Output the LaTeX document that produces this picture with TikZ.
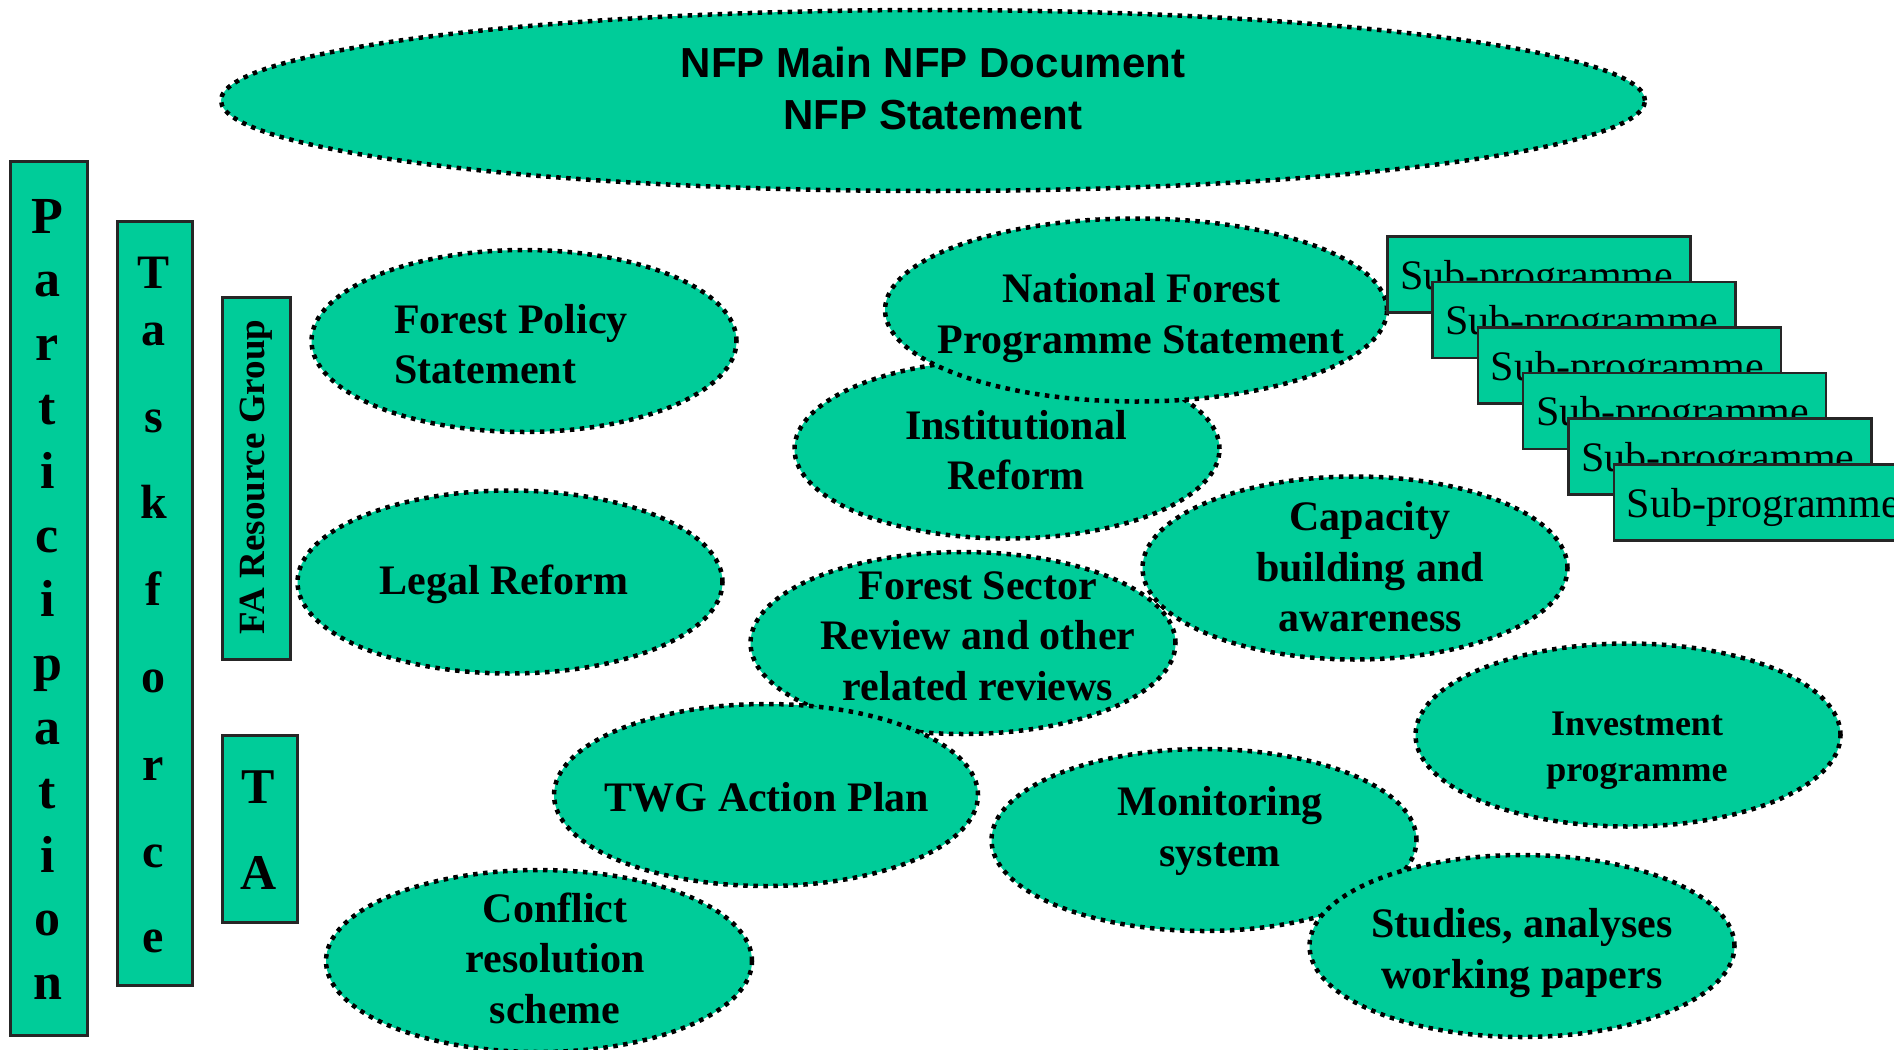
\documentclass[tikz,border=0pt]{standalone}
\usepackage{fontspec}
\setmainfont{Liberation Serif}
\newfontfamily\arialfont{Liberation Sans}
\usetikzlibrary{shapes.geometric}
\definecolor{nfpgreen}{RGB}{0,204,153}
\tikzset{
  blob/.style={ellipse, fill=nfpgreen, draw=black, line width=4.5pt, dash pattern=on 4.5pt off 5.5pt, inner sep=0pt},
  blobtext/.style={font={\fontsize{42}{50.5}\selectfont\bfseries}, align=center, inner sep=0pt},
  barbox/.style={rectangle, fill=nfpgreen, draw=black!85, line width=2.5pt, inner sep=0pt, anchor=north west},
  barletter/.style={font={\fontsize{#1}{#1}\selectfont\bfseries}, anchor=base, inner sep=0pt},
  subbox/.style={rectangle, fill=nfpgreen, draw=black!85, line width=2.5pt, inner sep=0pt, anchor=north west, minimum width=303pt, minimum height=76pt},
  subtext/.style={font={\fontsize{42}{50}\selectfont}, anchor=base west, inner sep=0pt}
}
\begin{document}
\begin{tikzpicture}[x=1pt,y=-1pt]
\useasboundingbox (0,0) rectangle (1894,1049);
\clip (0,0) rectangle (1894,1049);
% top ellipse
\node[blob, minimum width=1424pt, minimum height=181pt] (main) at (933,100.5) {};
\node[font={\arialfont\fontsize{42}{52}\selectfont\bfseries}, align=center, inner sep=0pt] (maint) at (933,88) {NFP Main NFP Document\\NFP Statement};
% vertical bars
\node[barbox, minimum width=77pt, minimum height=874pt] (part) at (9,160) {};
\foreach \l [count=\i from 0] in {P,a,r,t,i,c,i,p,a,t,i,o,n}
  \node[barletter=52] (p\i) at (47.5,{233+63.9*\i}) {\l};
\node[barbox, minimum width=75pt, minimum height=764pt] (task) at (116,220) {};
\foreach \l/\b [count=\i] in {T/288,a/345,s/432,k/518,f/605,o/692,r/780,c/867,e/952}
  \node[barletter=48] (t\i) at (153.5,\b) {\l};
\node[barbox, minimum width=68pt, minimum height=362pt] (fa) at (221,296) {};
\node[font={\fontsize{37}{37}\selectfont\bfseries}, rotate=90, inner sep=0pt] (fat) at (256,477) {FA Resource Group};
\node[barbox, minimum width=75pt, minimum height=187pt] (ta) at (221,734) {};
\node[barletter=50] (ta1) at (258.5,803) {T};
\node[barletter=50] (ta2) at (258.5,889) {A};
% ellipses
\node[blob, minimum width=425pt, minimum height=182pt] (fps) at (524,341) {};
\node[blobtext, align=left, anchor=west] (fpst) at (394,344) {Forest Policy\\Statement};
\node[blob, minimum width=425pt, minimum height=183pt] (legal) at (510,582) {};
\node[blobtext] (legalt) at (504,584) {Legal Reform};
\node[blob, minimum width=425pt, minimum height=179pt] (inst) at (1007,449) {};
\node[blobtext] (instt) at (1016,450) {Institutional\\Reform};
\node[blob, minimum width=502pt, minimum height=183pt] (nfps) at (1136,310) {};
\node[blobtext] (nfpst) at (1141,318) {National Forest\\Programme Statement};
\node[blob, minimum width=425pt, minimum height=183pt] (cap) at (1355,568) {};
\node[blobtext] (capt) at (1370,567) {Capacity\\building and\\awareness};
\node[blob, minimum width=425pt, minimum height=182pt] (fsr) at (963,643) {};
\node[blobtext] (fsrt) at (978,636) {Forest Sector\\Review and other\\related reviews};
\node[blob, minimum width=424pt, minimum height=182pt] (twg) at (766,795) {};
\node[blobtext] (twgt) at (767,797) {TWG Action Plan};
\node[blob, minimum width=426pt, minimum height=182pt] (conf) at (539,961) {};
\node[blobtext] (conft) at (555,958) {Conflict\\resolution\\scheme};
\node[blob, minimum width=425pt, minimum height=183pt] (inv) at (1628,735) {};
\node[blobtext, font={\fontsize{36}{46}\selectfont\bfseries}] (invt) at (1637,751) {Investment\\programme};
\node[blob, minimum width=425pt, minimum height=182pt] (mon) at (1204,840) {};
\node[blobtext] (mont) at (1220,831) {Monitoring\\system};
\node[blob, minimum width=425pt, minimum height=182pt] (stud) at (1522,946) {};
\node[blobtext] (studt) at (1522,953) {Studies, analyses\\working papers};
% sub-programme stack
\foreach \i in {0,...,5} {
  \node[subbox] (sp\i) at ({1386+45.3*\i},{235+45.6*\i}) {};
  \node[subtext] (spt\i) at ({1400+45.3*\i},{289+45.6*\i}) {Sub-programme};
}
\end{tikzpicture}
\end{document}
